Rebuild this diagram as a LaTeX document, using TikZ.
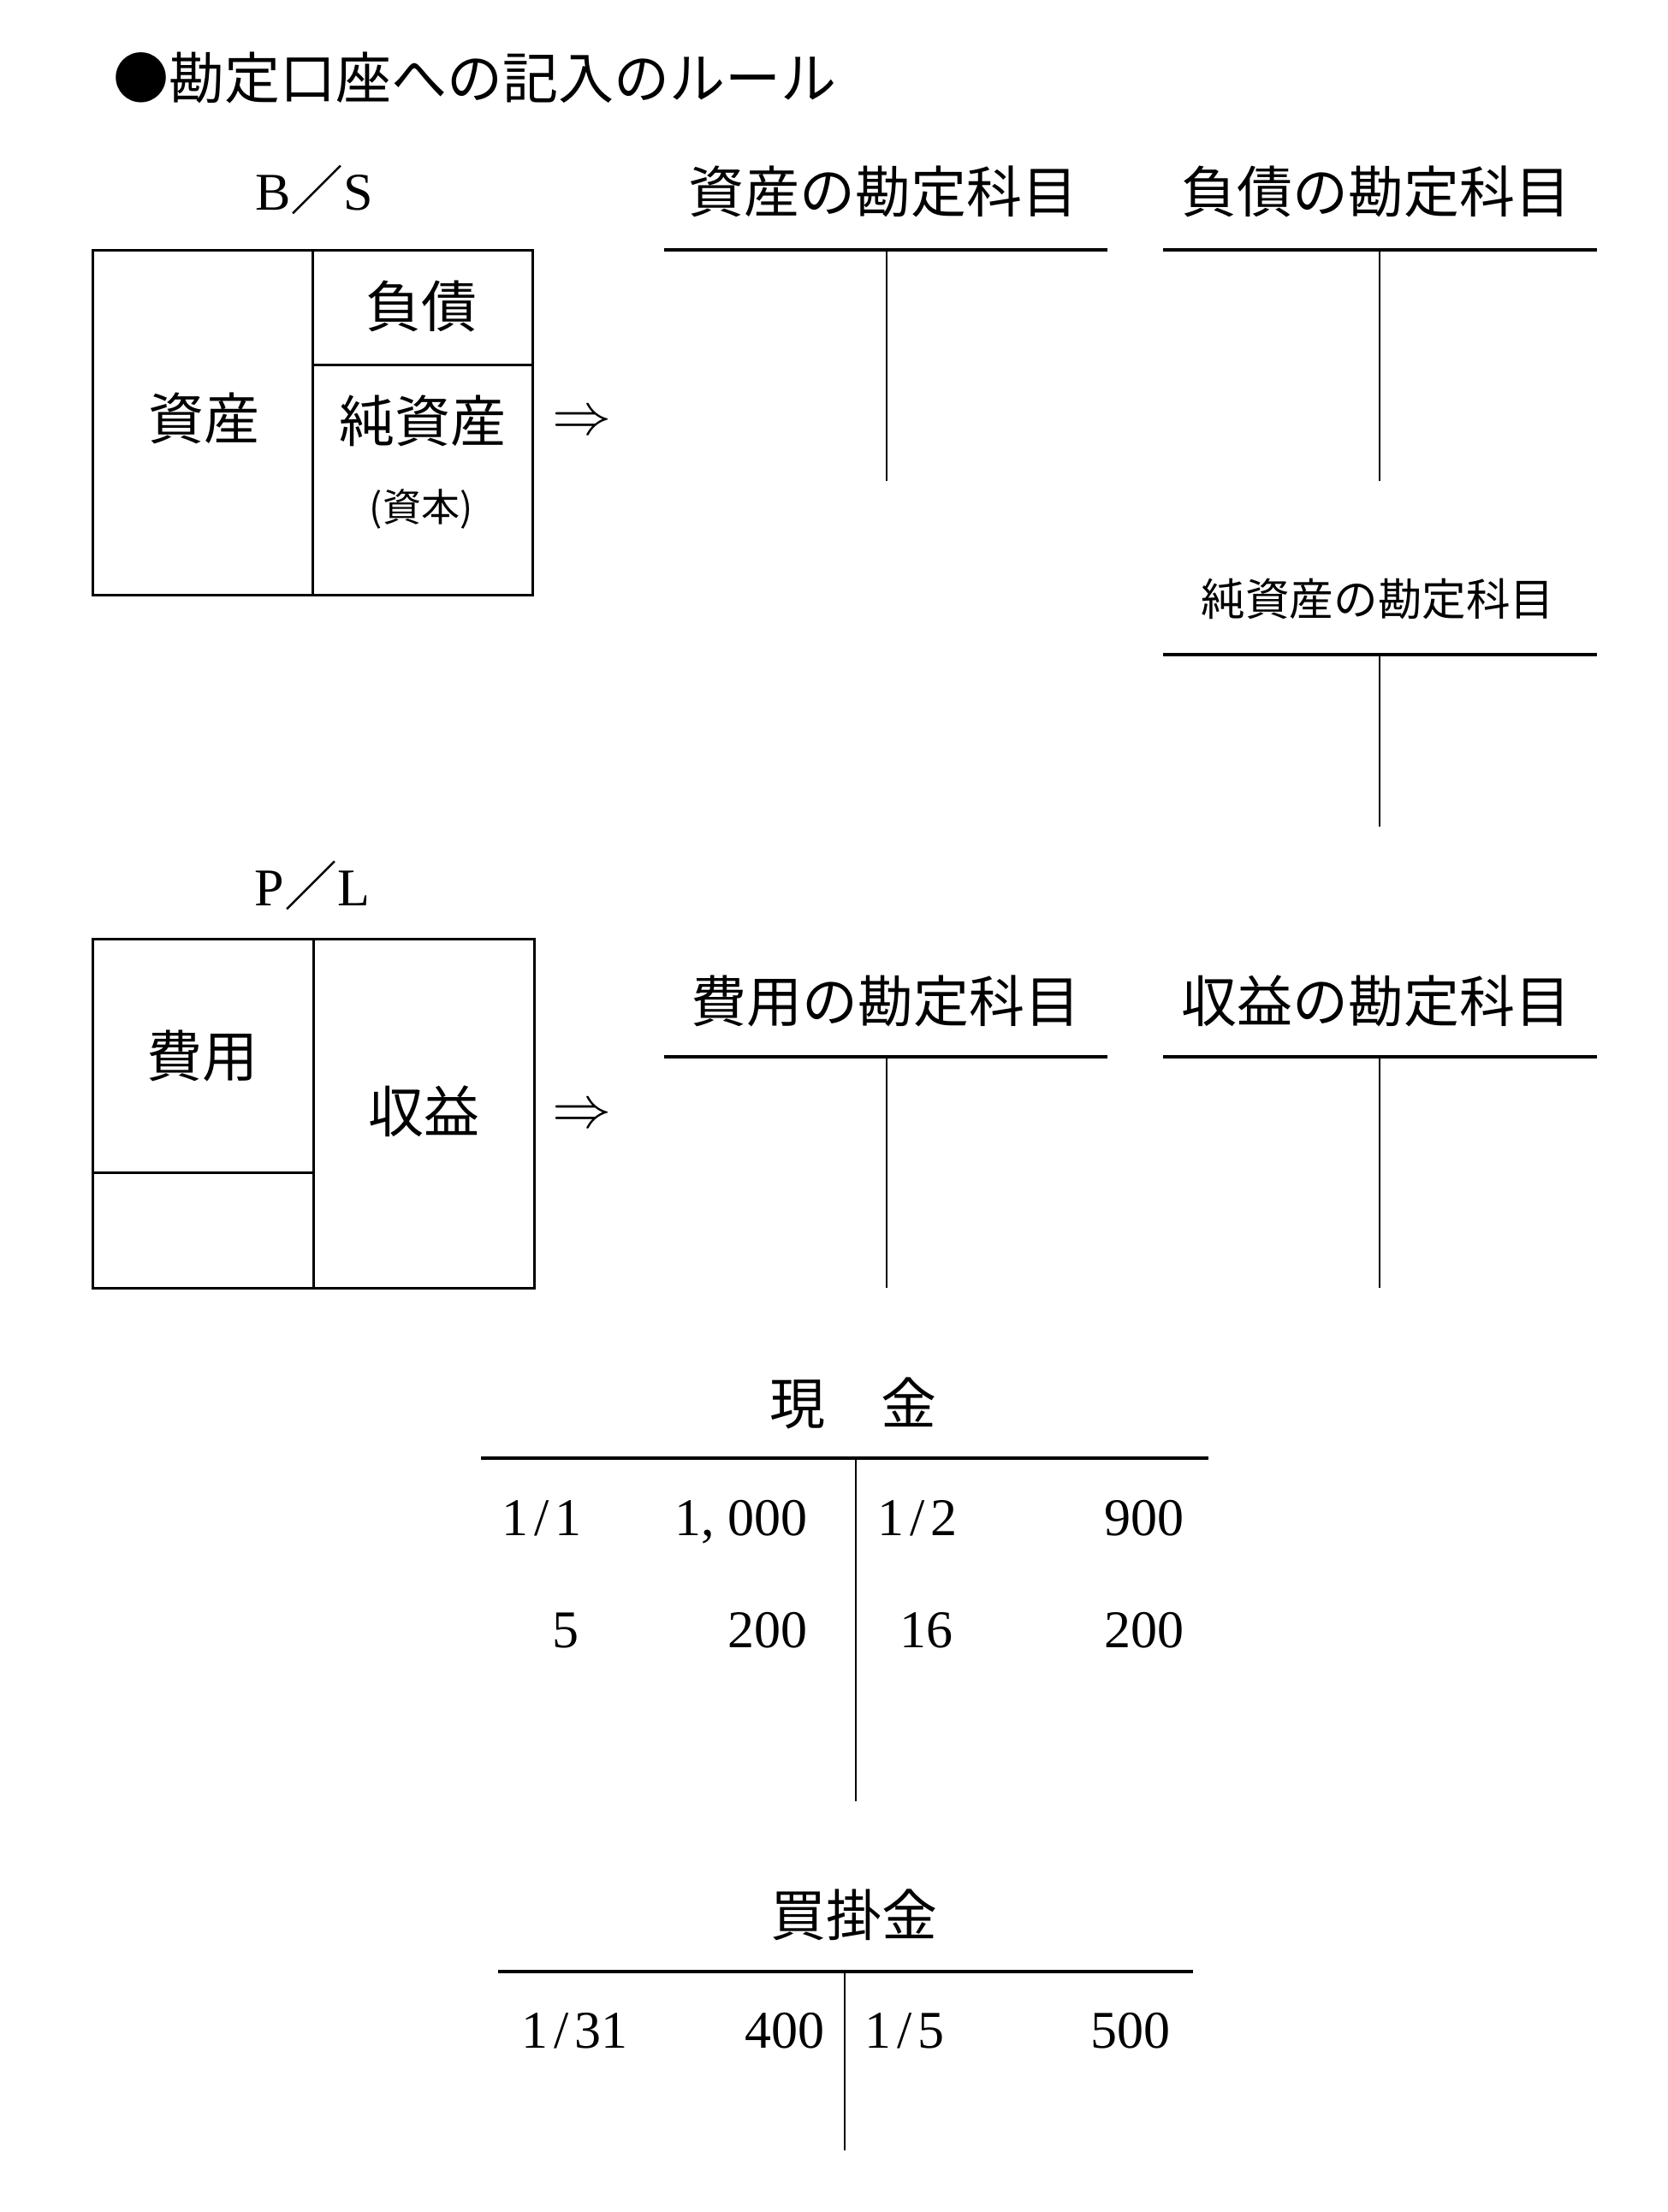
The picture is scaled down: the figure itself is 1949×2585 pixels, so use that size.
\documentclass[tikz,border=0pt]{standalone}
\usepackage{fontspec}
\setmainfont{Liberation Serif}
\newfontfamily\jp{Noto Sans CJK JP}
\newcommand\sla{\makebox[0.5em][c]{/}}
\newcommand\cma{\makebox[0.5em][l]{,}}
\tikzset{
  jt/.style={font=\jp\fontsize{16.25pt}{18pt}\selectfont, inner sep=0pt},
  jmid/.style={font=\jp\fontsize{12.9pt}{15pt}\selectfont, inner sep=0pt},
  jsmall/.style={font=\jp\fontsize{11.25pt}{13pt}\selectfont, inner sep=0pt},
  num/.style={font=\fontsize{15.5pt}{18pt}\selectfont, inner sep=0pt},
  arr/.style={font=\fontsize{18pt}{20pt}\selectfont, inner sep=0pt},
  hline/.style={line width=1pt},
  vline/.style={line width=0.5pt},
  boxline/.style={line width=0.75pt},
}
\begin{document}
\begin{tikzpicture}[x=0.25pt,y=-0.25pt]
\fill[white] (0,0) rectangle (1949,2585);
\useasboundingbox (0,0) rectangle (1949,2585);

% title
\node[jt, anchor=west] (title) at (132,91) {●勘定口座への記入のルール};

% ---------- B/S ----------
\node[num] (bslabel) at (367,222) {B{\jp ／}S};
\coordinate (bsNW) at (108,292);
\coordinate (bsSE) at (622,695);
\draw[boxline] (bsNW) rectangle (bsSE);
\draw[boxline] (365,292) -- (365,695);
\draw[boxline] (365,426) -- (622,426);
\node[jt] (shisan) at (238,489) {資産};
\node[jt] (fusai) at (492,358) {負債};
\node[jt] (junshisan) at (494,492) {純資産};
\node[jsmall] (shihon) at (492,595) {(資本)};
\node[arr] (arrbs) at (680,495) {$\Rightarrow$};

% T account: assets
\node[jt] (tA) at (1032,224) {資産の勘定科目};
\coordinate (tAl) at (776,292); \coordinate (tAr) at (1294,292);
\coordinate (tAt) at (1036,292); \coordinate (tAb) at (1036,562);
\draw[hline] (tAl) -- (tAr); \draw[vline] (tAt) -- (tAb);

% T account: liabilities
\node[jt] (tB) at (1608,224) {負債の勘定科目};
\coordinate (tBl) at (1359,292); \coordinate (tBr) at (1866,292);
\coordinate (tBt) at (1612,292); \coordinate (tBb) at (1612,562);
\draw[hline] (tBl) -- (tBr); \draw[vline] (tBt) -- (tBb);

% T account: net assets
\node[jmid] (tC) at (1610,700) {純資産の勘定科目};
\coordinate (tCl) at (1359,765); \coordinate (tCr) at (1866,765);
\coordinate (tCt) at (1612,765); \coordinate (tCb) at (1612,966);
\draw[hline] (tCl) -- (tCr); \draw[vline] (tCt) -- (tCb);

% ---------- P/L ----------
\node[num] (pllabel) at (365,1035) {P{\jp ／}L};
\coordinate (plNW) at (108,1097);
\coordinate (plSE) at (624,1505);
\draw[boxline] (plNW) rectangle (plSE);
\draw[boxline] (366,1097) -- (366,1505);
\draw[boxline] (108,1370) -- (366,1370);
\node[jt] (hiyou) at (236,1234) {費用};
\node[jt] (shueki) at (495,1299) {収益};
\node[arr] (arrpl) at (680,1305) {$\Rightarrow$};

% T account: expenses
\node[jt] (tD) at (1035,1170) {費用の勘定科目};
\coordinate (tDl) at (776,1235); \coordinate (tDr) at (1294,1235);
\coordinate (tDt) at (1036,1235); \coordinate (tDb) at (1036,1505);
\draw[hline] (tDl) -- (tDr); \draw[vline] (tDt) -- (tDb);

% T account: revenue
\node[jt] (tE) at (1608,1170) {収益の勘定科目};
\coordinate (tEl) at (1359,1235); \coordinate (tEr) at (1866,1235);
\coordinate (tEt) at (1612,1235); \coordinate (tEb) at (1612,1505);
\draw[hline] (tEl) -- (tEr); \draw[vline] (tEt) -- (tEb);

% ---------- 現金 ----------
\node[jt] (genkin) at (997,1640) {現　金};
\coordinate (gl) at (562,1704); \coordinate (gr) at (1412,1704);
\coordinate (gt) at (1000,1704); \coordinate (gb) at (1000,2105);
\draw[hline] (gl) -- (gr); \draw[vline] (gt) -- (gb);
\node[num, anchor=base west] (g11) at (586,1794) {1\sla 1};
\node[num, anchor=base east] (g12) at (944,1794) {1\cma 000};
\node[num, anchor=base west] (g13) at (1025,1794) {1\sla 2};
\node[num, anchor=base east] (g14) at (1384,1794) {900};
\node[num, anchor=base east] (g21) at (677,1925) {5};
\node[num, anchor=base east] (g22) at (944,1925) {200};
\node[num, anchor=base east] (g23) at (1114,1925) {16};
\node[num, anchor=base east] (g24) at (1384,1925) {200};

% ---------- 買掛金 ----------
\node[jt] (kaikake) at (998,2238) {買掛金};
\coordinate (kl) at (582,2304); \coordinate (kr) at (1394,2304);
\coordinate (kt) at (987,2304); \coordinate (kb) at (987,2513);
\draw[hline] (kl) -- (kr); \draw[vline] (kt) -- (kb);
\node[num, anchor=base west] (k11) at (609,2393) {1\sla 31};
\node[num, anchor=base east] (k12) at (964,2393) {400};
\node[num, anchor=base west] (k13) at (1010,2393) {1\sla 5};
\node[num, anchor=base east] (k14) at (1368,2393) {500};
\end{tikzpicture}
\end{document}
